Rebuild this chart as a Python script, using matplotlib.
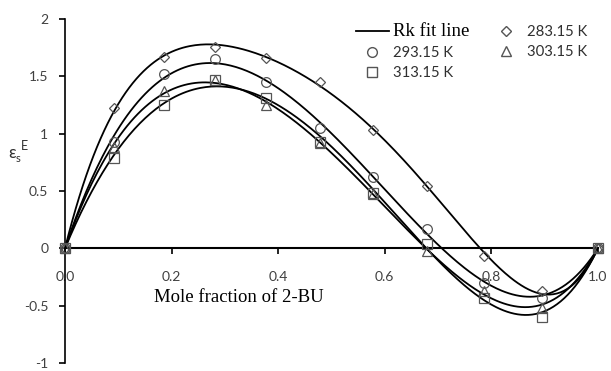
import numpy as np
import matplotlib
matplotlib.use('Agg')
import matplotlib.pyplot as plt
from matplotlib.lines import Line2D

# данные (мольная доля 2-BU и значения при разных температурах)
x = np.array([0.0, 0.092, 0.186, 0.281, 0.378, 0.479, 0.578, 0.680, 0.787, 0.895, 1.0])
y_283 = np.array([0.0, 1.22, 1.67, 1.76, 1.66, 1.45, 1.03, 0.54, -0.07, -0.37, 0.0])
y_293 = np.array([0.0, 0.93, 1.52, 1.65, 1.45, 1.05, 0.62, 0.17, -0.30, -0.43, 0.0])
y_303 = np.array([0.0, 0.88, 1.37, 1.47, 1.25, 0.92, 0.47, -0.02, -0.37, -0.52, 0.0])
y_313 = np.array([0.0, 0.79, 1.25, 1.47, 1.31, 0.93, 0.48, 0.04, -0.43, -0.60, 0.0])

xticks = [0.0, 0.2, 0.4, 0.6, 0.8, 1.0]
xtick_labels = ['0.0', '0.2', '0.4', '0.6', '0.8', '1.0']
yticks = [-1, -0.5, 0, 0.5, 1, 1.5, 2]
ytick_labels = ['-1', '-0.5', '0', '0.5', '1', '1.5', '2']

sans = 'Lato'
serif = 'Liberation Serif'
mcol = '#555555'


def rk_fit(xs, ys, order=4):
    # Redlich-Kister: x(1-x) * sum A_k (2x-1)^k
    base = xs * (1 - xs)
    A = np.column_stack([base * (2 * xs - 1) ** k for k in range(order)])
    coef, *_ = np.linalg.lstsq(A, ys, rcond=None)
    xf = np.linspace(0, 1, 300)
    bf = xf * (1 - xf)
    yf = sum(c * bf * (2 * xf - 1) ** k for k, c in enumerate(coef))
    return xf, yf


fig = plt.figure(figsize=(6.11, 3.71), dpi=100)
ax = fig.add_axes([65 / 611, 8 / 371, 533 / 611, 344 / 371])

series = [
    (y_283, 'D', 5.5),
    (y_293, 'o', 7),
    (y_303, '^', 7),
    (y_313, 's', 7),
]
for ys, m, ms in series:
    xf, yf = rk_fit(x, ys)
    ax.plot(xf, yf, color='black', lw=1.3, zorder=2)
    ax.plot(x, ys, ls='none', marker=m, ms=ms, mfc='none', mec=mcol,
            mew=0.9, zorder=3, clip_on=False)

ax.set_xlim(0, 1)
ax.set_ylim(-1, 2)
ax.spines['left'].set_position(('data', 0))
ax.spines['bottom'].set_position(('data', 0))
ax.spines['top'].set_visible(False)
ax.spines['right'].set_visible(False)
ax.spines['left'].set_linewidth(1.2)
ax.spines['bottom'].set_linewidth(1.5)

ax.set_xticks(xticks)
ax.set_xticklabels(xtick_labels, fontfamily=sans, fontsize=10, color='#404040')
ax.set_yticks(yticks)
ax.set_yticklabels(ytick_labels, fontfamily=sans, fontsize=10, color='#404040')
ax.tick_params(axis='x', direction='out', length=4, width=1.2, pad=12)
ax.tick_params(axis='y', direction='out', length=4, width=1.2, pad=8)

ax.text(0.327, -0.43, 'Mole fraction of 2-BU', fontfamily=serif, fontsize=13.5,
        ha='center', va='center')

# подпись оси y
fig.text(12 / 611, 1 - 153 / 371, 'ε', fontfamily=sans, fontsize=12,
         ha='center', va='center', color='#303030')
fig.text(18 / 611, 1 - 159 / 371, 's', fontfamily=sans, fontsize=8,
         ha='center', va='center', color='#303030')
fig.text(24 / 611, 1 - 146 / 371, 'E', fontfamily=sans, fontsize=9,
         ha='center', va='center', color='#303030')

# легенда
handles = [
    Line2D([], [], color='black', lw=1.3),
    Line2D([], [], ls='none', marker='o', ms=7, mfc='none', mec=mcol),
    Line2D([], [], ls='none', marker='s', ms=7, mfc='none', mec=mcol),
    Line2D([], [], ls='none', marker='D', ms=5.5, mfc='none', mec=mcol),
    Line2D([], [], ls='none', marker='^', ms=7, mfc='none', mec=mcol),
]
labels = ['Rk fit line', '293.15 K', '313.15 K', '283.15 K', '303.15 K']
leg = ax.legend(handles, labels, ncol=2, frameon=False, loc='upper right',
                handlelength=2.2, handletextpad=0.3, columnspacing=1.35,
                labelspacing=0.4, borderaxespad=0.0, borderpad=0.2,
                prop={'family': sans, 'size': 10.7})
leg.set_bbox_to_anchor((590 / 611, 1 - 20 / 371), transform=fig.transFigure)
for t in leg.get_texts():
    t.set_color('#303030')
leg.get_texts()[0].set_fontfamily(serif)
leg.get_texts()[0].set_fontsize(13.5)
leg.get_texts()[0].set_color('black')

fig.savefig('out.png', dpi=100)
